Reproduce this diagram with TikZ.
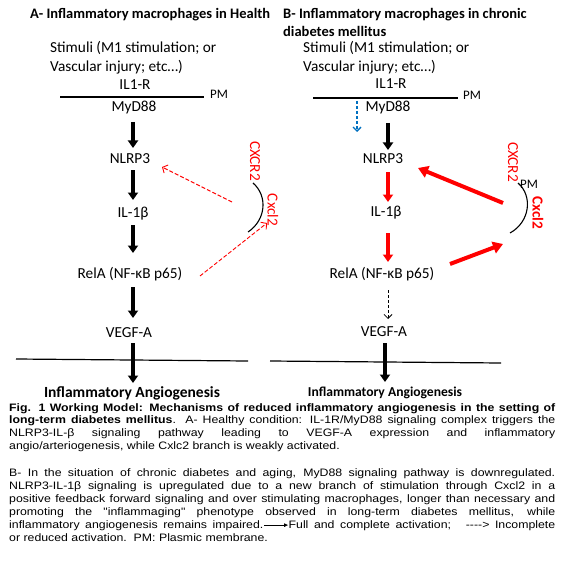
\documentclass[tikz,border=0pt]{standalone}
\usepackage{graphicx}
\usepackage{fontspec}
\setmainfont{Carlito}
\newfontfamily\capfont{Liberation Sans}
\usetikzlibrary{arrows.meta}
\definecolor{offblue}{RGB}{0,112,192}
\definecolor{pred}{RGB}{255,0,0}
\newcommand{\capline}[1]{\scalebox{1.14}[1]{\makebox[479pt][s]{#1}}}
\newcommand{\caplast}[1]{\scalebox{1.14}[1]{#1}}
\begin{document}
\begin{tikzpicture}[x=1pt,y=-1pt,
  lbl/.style={font=\fontsize{15.3}{18}\selectfont,inner sep=0pt,text height=10pt,text depth=3pt},
  pmlbl/.style={font=\fontsize{13}{15}\selectfont,inner sep=0pt},
  ttl/.style={font=\fontsize{14.5}{18}\selectfont\bfseries,inner sep=0pt,anchor=base west},
  stim/.style={font=\fontsize{15.3}{18}\selectfont,inner sep=0pt,anchor=base west},
  rot/.style={font=\fontsize{15.3}{18}\selectfont,inner sep=0pt,text=pred,rotate=-90},
  captxt/.style={font=\capfont\fontsize{10.8}{12.6}\selectfont,inner sep=0pt,anchor=base west},
  memb/.style={line width=2pt},
  groundline/.style={line width=1.2pt},
  bigarrow/.style={line width=3.6pt,-{Triangle[width=10pt,length=7.5pt]}},
  redarrow/.style={bigarrow,draw=pred},
  fbarrow/.style={line width=4pt,draw=pred,-{Triangle[width=12pt,length=10pt]}},
  weakarrow/.style={line width=0.8pt,dash pattern=on 3pt off 2pt,-{Straight Barb[length=4pt,width=8pt]}},
  bluearrow/.style={line width=1.3pt,draw=offblue,dash pattern=on 3pt off 2pt,-{Straight Barb[length=4pt,width=8pt]}},
  rdash/.style={line width=0.9pt,draw=pred,dash pattern=on 4pt off 2pt,-{Straight Barb[length=4pt,width=9pt]}},
  receptor/.style={line width=1.1pt}
]
\useasboundingbox (0,0) rectangle (564,564);
\fill[white] (0,0) rectangle (564,564);

% ---------------- Panel A ----------------
\node[ttl] (titleA) at (30,19) {A- Inflammatory macrophages in Health};
\node[stim] (stimA1) at (50,53) {Stimuli (M1 stimulation; or};
\node[stim] (stimA2) at (50,72) {Vascular injury; etc\ldots)};
\node[lbl] (il1rA) at (135,86) {IL1-R};
\coordinate (pmAl) at (60,97);
\coordinate (pmAr) at (204,97);
\draw[memb] (pmAl) -- (pmAr);
\node[pmlbl] (pmA) at (219,94) {PM};
\node[lbl] (myd88A) at (134,108) {MyD88};
\node[lbl] (nlrp3A) at (130,160) {NLRP3};
\node[lbl] (il1bA) at (133,214) {IL-1β};
\node[lbl] (relaA) at (130,275) {RelA (NF-κB p65)};
\node[lbl] (vegfA) at (129,334) {VEGF-A};
\node[font=\fontsize{15.5}{18}\selectfont\bfseries,inner sep=0pt,text height=10pt,text depth=3pt] (angioA) at (132,394) {Inflammatory Angiogenesis};
\coordinate (axA) at (133,0);
\draw[bigarrow,shorten <=14pt,shorten >=12pt] (axA |- myd88A.center) -- (axA |- nlrp3A.center);
\draw[bigarrow,shorten <=10pt,shorten >=14pt] (axA |- nlrp3A.center) -- (axA |- il1bA.center);
\draw[bigarrow,shorten <=11pt,shorten >=22pt] (axA |- il1bA.center) -- (axA |- relaA.center);
\draw[bigarrow,shorten <=12pt,shorten >=16pt] (axA |- relaA.center) -- (axA |- vegfA.center);
\coordinate (baseAl) at (16,359);
\coordinate (baseAr) at (248,361);
\draw[groundline] (baseAl) -- (baseAr);
\draw[bigarrow,shorten <=9pt,shorten >=11pt] (axA |- vegfA.center) -- (axA |- angioA.center);

% receptor A
\coordinate (recAt) at (253,183);
\coordinate (recAb) at (248,232);
\draw[receptor] (recAt) .. controls (268,196) and (266,220) .. (recAb);
\node[rot] (cxcr2A) at (255,161) {CXCR2};
\node[rot] (cxcl2A) at (273,210) {Cxcl2};
\coordinate (rdA1s) at (232,202);
\coordinate (rdA1e) at (162,167);
\draw[rdash] (rdA1s) -- (rdA1e);
\coordinate (rdA2s) at (200,276);
\coordinate (rdA2e) at (267,223);
\draw[rdash] (rdA2s) -- (rdA2e);

% ---------------- Panel B ----------------
\node[ttl] (titleB1) at (283,19) {B- Inflammatory macrophages in chronic};
\node[ttl] (titleB2) at (283,37) {diabetes mellitus};
\node[stim] (stimB1) at (303,53) {Stimuli (M1 stimulation; or};
\node[stim] (stimB2) at (303,72) {Vascular injury; etc\ldots)};
\node[lbl] (il1rB) at (391,85) {IL1-R};
\coordinate (pmBl) at (313,98);
\coordinate (pmBr) at (458,98);
\draw[memb] (pmBl) -- (pmBr);
\node[pmlbl] (pmB) at (472,95) {PM};
\node[lbl] (myd88B) at (388,108) {MyD88};
\coordinate (blueS) at (357,101);
\coordinate (blueE) at (357,132);
\draw[bluearrow] (blueS) -- (blueE);
\node[lbl] (nlrp3B) at (383,160) {NLRP3};
\node[lbl] (il1bB) at (386,213) {IL-1β};
\node[lbl] (relaB) at (382,275) {RelA (NF-κB p65)};
\node[lbl] (vegfB) at (384,333) {VEGF-A};
\node[font=\fontsize{13.6}{16}\selectfont\bfseries,inner sep=0pt,text height=9pt,text depth=3pt] (angioB) at (385,393) {Inflammatory Angiogenesis};
\coordinate (axB) at (388,0);
\draw[bigarrow,shorten <=15pt,shorten >=10pt] (axB |- myd88B.center) -- (axB |- nlrp3B.center);
\draw[redarrow,shorten <=12pt,shorten >=11pt] (axB |- nlrp3B.center) -- (axB |- il1bB.center);
\draw[redarrow,shorten <=20pt,shorten >=13pt] (axB |- il1bB.center) -- (axB |- relaB.center);
\draw[weakarrow,shorten <=15pt,shorten >=14pt] (axB |- relaB.center) -- (axB |- vegfB.center);
\coordinate (baseBl) at (270,361);
\coordinate (baseBr) at (501,363);
\draw[groundline] (baseBl) -- (baseBr);
\coordinate (axB2) at (385,0);
\draw[bigarrow,shorten <=10pt,shorten >=11pt] (axB2 |- vegfB.center) -- (axB2 |- angioB.center);

% receptor B
\coordinate (recBt) at (518,183);
\coordinate (recBb) at (510,233);
\draw[receptor] (recBt) .. controls (533,196) and (530,222) .. (recBb);
\node[rot] (cxcr2B) at (513,162) {CXCR2};
\node[pmlbl] (pmBr2) at (529,184) {PM};
\node[rot,font=\fontsize{15.3}{18}\selectfont\bfseries] (cxcl2B) at (538,213) {Cxcl2};
\coordinate (fb1s) at (503,203);
\coordinate (fb1e) at (418,168);
\draw[fbarrow] (fb1s) -- (fb1e);
\coordinate (fb2s) at (450,264);
\coordinate (fb2e) at (503,244);
\draw[fbarrow] (fb2s) -- (fb2e);

% ---------------- Caption ----------------
\node[captxt] (capA1) at (9,411) {\capline{\bfseries Fig. 1 Working Model: Mechanisms of reduced inflammatory angiogenesis in the setting of}};
\node[captxt] (capA2) at (9,423.7) {\capline{\textbf{long-term diabetes mellitus}. A- Healthy condition: IL-1R/MyD88 signaling complex triggers the}};
\node[captxt] (capA3) at (9,436.4) {\capline{NLRP3-IL-β signaling pathway leading to VEGF-A expression and inflammatory}};
\node[captxt] (capA4) at (9,449.1) {\caplast{angio/arteriogenesis, while Cxlc2 branch is weakly activated.}};
\node[captxt] (capB1) at (9,476) {\capline{B- In the situation of chronic diabetes and aging, MyD88 signaling pathway is downregulated.}};
\node[captxt] (capB2) at (9,489) {\capline{NLRP3-IL-1β signaling is upregulated due to a new branch of stimulation through Cxcl2 in a}};
\node[captxt] (capB3) at (9,502) {\capline{positive feedback forward signaling and over stimulating macrophages, longer than necessary and}};
\node[captxt] (capB4) at (9,515) {\capline{promoting the "inflammaging" phenotype observed in long-term diabetes mellitus, while}};
\node[captxt] (capB5) at (9,528) {\capline{inflammatory angiogenesis remains impaired.\kern0.5pt\tikz[baseline=-2.9pt,x=1pt,y=1pt]\draw[line width=0.7pt,-{Latex[length=3.5pt,width=4pt]}] (0,0)--(21,0);Full and complete activation;\hspace{13pt}-{}-{}-{}-> Incomplete}};
\node[captxt] (capB6) at (9,541) {\caplast{or reduced activation.\ \ PM: Plasmic membrane.}};
\end{tikzpicture}
\end{document}
